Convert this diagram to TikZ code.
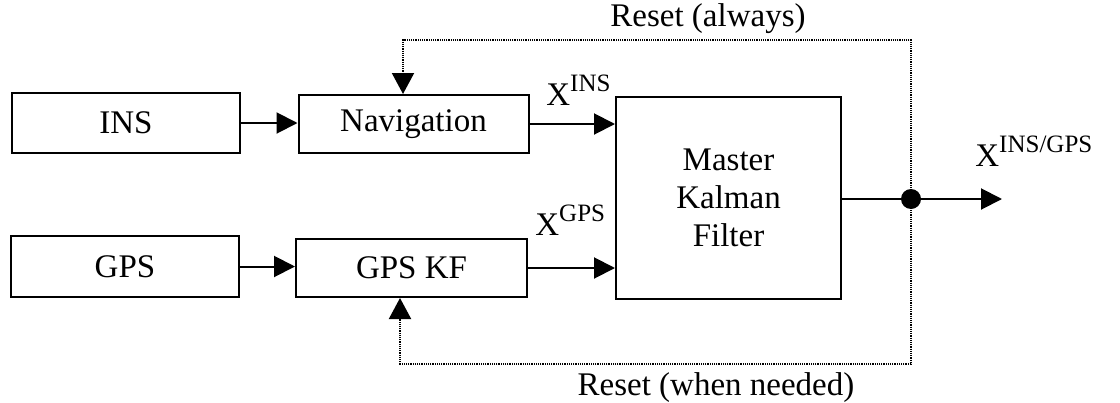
\documentclass[tikz,border=0pt]{standalone}
\usepackage{fontspec}
\setmainfont{Liberation Serif}
\usetikzlibrary{arrows.meta,calc}

\tikzset{
  block/.style={draw, line width=1pt, inner sep=0pt, font=\fontsize{16.5}{19}\selectfont,
                align=center},
  sigline/.style={line width=1pt, -{Triangle[length=10.5pt,width=10.5pt]}},
  resetline/.style={line width=1pt, dash pattern=on 0.6pt off 0.5pt,
                    -{Triangle[length=10.5pt,width=11pt]}},
  lbl/.style={inner sep=0pt, font=\fontsize{16.5}{19}\selectfont},
}
% state label with a raised superscript tag
\newcommand{\stlabel}[1]{X\raisebox{7pt}{\fontsize{12.5}{14}\selectfont #1}}

\begin{document}
\begin{tikzpicture}[x=0.5pt,y=-0.5pt]
  \useasboundingbox (0,0) rectangle (1120,402);

  % sensor and processing blocks
  \node[block, minimum width=114pt, minimum height=30pt] (ins) at (126,123) {INS};
  \node[block, minimum width=115pt, minimum height=29pt] (nav) at (413.5,124) {Navigation};
  \node[block, minimum width=114pt, minimum height=30.5pt] (gps) at (125,266.5) {GPS};
  \node[block, minimum width=115.5pt, minimum height=29pt] (gpskf) at (411.5,268) {GPS KF};
  \node[block, minimum width=112.5pt, minimum height=101pt] (mkf) at (728.5,198) {Master\\Kalman\\Filter};

  % branch point and output end
  \coordinate (dot) at (911,199);
  \coordinate (out) at (1002,199);
  \coordinate (topy) at (0,40);
  \coordinate (boty) at (0,364);

  % forward signal flow
  \draw[sigline] (ins.east) -- (ins.east -| nav.west);
  \draw[sigline] (gps.east) -- (gps.east -| gpskf.west);
  \draw[sigline] (nav.east) -- (nav.east -| mkf.west);
  \draw[sigline] (gpskf.east) -- (gpskf.east -| mkf.west);
  \draw[line width=1pt] (mkf.east |- dot) -- (dot);
  \draw[sigline] (dot) -- (out);

  % reset feedback paths
  \draw[resetline] (dot) -- (dot |- topy) -| ([xshift=-5.25pt]nav.north);
  \draw[resetline] (dot) -- (dot |- boty) -| ([xshift=-5.75pt]gpskf.south);
  \fill (dot) circle (5pt);

  % labels
  \node[lbl, anchor=base west] (xins) at (546,105) {\stlabel{INS}};
  \node[lbl, anchor=base west] (xgps) at (535,235) {\stlabel{GPS}};
  \node[lbl, anchor=base west] (xout) at (975,166) {\stlabel{INS/GPS}};
  \node[lbl] (ra) at (708,19) {Reset (always)};
  \node[lbl] (rn) at (716,388) {Reset (when needed)};
\end{tikzpicture}
\end{document}
